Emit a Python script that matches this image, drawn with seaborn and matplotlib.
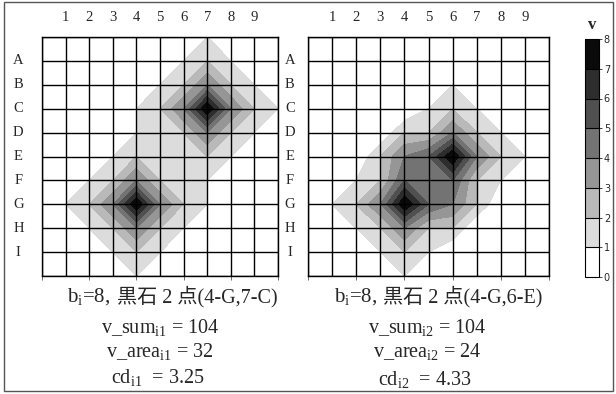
import numpy as np
import matplotlib
matplotlib.use("Agg")
import matplotlib.pyplot as plt
import seaborn as sns
from matplotlib.colors import ListedColormap, BoundaryNorm
from matplotlib.cm import ScalarMappable
from matplotlib.patches import Rectangle

# board lines 0..10, only 1..9 carry labels
board_lines = list(range(11))
col_labels = ["1", "2", "3", "4", "5", "6", "7", "8", "9"]
row_labels = ["A", "B", "C", "D", "E", "F", "G", "H", "I"]

# v (rows = y 0..10 from top, cols = x 0..10)
v_board1 = [
    [0, 0, 0, 0, 0, 0, 0, 1, 0, 0, 0],
    [0, 0, 0, 0, 0, 0, 1, 2, 1, 0, 0],
    [0, 0, 0, 0, 0, 1, 2, 4, 2, 1, 0],
    [0, 0, 0, 0, 1, 2, 4, 8, 4, 2, 1],
    [0, 0, 0, 0, 1, 1, 2, 4, 2, 1, 0],
    [0, 0, 0, 1, 2, 1, 1, 2, 1, 0, 0],
    [0, 0, 1, 2, 4, 2, 1, 1, 0, 0, 0],
    [0, 1, 2, 4, 8, 4, 2, 1, 0, 0, 0],
    [0, 0, 1, 2, 4, 2, 1, 0, 0, 0, 0],
    [0, 0, 0, 1, 2, 1, 0, 0, 0, 0, 0],
    [0, 0, 0, 0, 1, 0, 0, 0, 0, 0, 0],
]
v_board2 = [
    [0, 0, 0, 0, 0, 0, 0, 0, 0, 0, 0],
    [0, 0, 0, 0, 0, 0, 0, 0, 0, 0, 0],
    [0, 0, 0, 0, 0, 0, 1, 0, 0, 0, 0],
    [0, 0, 0, 0, 0, 1, 2, 1, 0, 0, 0],
    [0, 0, 0, 0, 2, 2, 4, 2, 1, 0, 0],
    [0, 0, 0, 2, 4, 5, 8, 4, 2, 1, 0],
    [0, 0, 1, 2, 5, 4, 5, 2, 1, 0, 0],
    [0, 1, 2, 4, 8, 5, 4, 2, 0, 0, 0],
    [0, 0, 1, 2, 4, 2, 2, 0, 0, 0, 0],
    [0, 0, 0, 1, 2, 1, 0, 0, 0, 0, 0],
    [0, 0, 0, 0, 1, 0, 0, 0, 0, 0, 0],
]

cb_ticks = [0, 1, 2, 3, 4, 5, 6, 7, 8]
stones = ["黒石 2 点(4-G,7-C)", "黒石 2 点(4-G,6-E)"]
b_i = [8, 8]
v_sum = [104, 104]
v_area = [32, 24]
cd = ["3.25", "4.33"]

sns.set_style("white")
plt.rcParams["font.family"] = ["Liberation Serif", "Noto Sans CJK JP"]
plt.rcParams["mathtext.fontset"] = "custom"
plt.rcParams["mathtext.rm"] = "Liberation Serif"
plt.rcParams["mathtext.it"] = "Liberation Serif:italic"

grays = sns.blend_palette(["#ffffff", "#0a0a0a"], 8)
# bands are [k, k+1): shift the edges a hair so plateaus of v=1 get grey
eps = 1e-6
fill_levels = [k - eps for k in cb_ticks[:-1]] + [cb_ticks[-1] + eps]

W, H = 616, 394


def fx(x):
    return x / W


def fy(y):
    return 1 - y / H


fig = plt.figure(figsize=(W / 100, H / 100), dpi=100)

ax1 = fig.add_axes([fx(42), fy(276), (278 - 42) / W, (276 - 37) / H])
ax2 = fig.add_axes([fx(308), fy(276), (549 - 308) / W, (276 - 37) / H])

X, Y = np.meshgrid(board_lines, board_lines)
for ax, v in [(ax1, v_board1), (ax2, v_board2)]:
    ax.contourf(X, Y, np.array(v, dtype=float), levels=fill_levels, colors=grays)
    ax.vlines(board_lines, 0, 10, color="black", lw=1.0, zorder=3)
    ax.hlines(board_lines, 0, 10, color="black", lw=1.0, zorder=3)
    ax.set_xlim(0, 10)
    ax.set_ylim(10, 0)
    ax.set_xticks(board_lines[::2])
    ax.set_yticks([])
    ax.set_xticklabels([])
    ax.tick_params(axis="x", bottom=True, length=3, width=0.6, color="#555555")
    for sp in ax.spines.values():
        sp.set_color("black")
        sp.set_linewidth(1.0)
    for i, lab in enumerate(col_labels):
        ax.text(i + 1, -0.8, lab, ha="center", va="center", fontsize=10.5)

# row letters sit left of board 1 and between the two boards
for i, lab in enumerate(row_labels):
    ax1.text(-1.0, i + 1, lab, ha="center", va="center", fontsize=10.5, clip_on=False)
    ax1.text(10.5, i + 1, lab, ha="center", va="center", fontsize=10.5, clip_on=False)

# captions under each board
for k, (xb, xs, xc) in enumerate([(110, 117, 160), (377, 383, 427)]):
    fig.text(fx(xb), fy(297), "b$_\\mathrm{i}$=%d," % b_i[k], ha="right", va="center",
             fontsize=15, family="Liberation Serif")
    fig.text(fx(xs), fy(297), stones[k], ha="left", va="center", fontsize=14.5)
    n = k + 1
    fig.text(fx(xc), fy(327), "v_sum$_\\mathrm{i%d}$ = %d" % (n, v_sum[k]), ha="center",
             va="center", fontsize=14.5, family="Liberation Serif")
    fig.text(fx(xc), fy(352), "v_area$_\\mathrm{i%d}$ = %d" % (n, v_area[k]), ha="center",
             va="center", fontsize=14.5, family="Liberation Serif")
    fig.text(fx(xc - 2), fy(377 + 2 * k), "cd$_\\mathrm{i%d}$  = %s" % (n, cd[k]), ha="center",
             va="center", fontsize=14.5, family="Liberation Serif")

# colour bar
cax = fig.add_axes([fx(585), fy(277), 14 / W, (277 - 39) / H])
sm = ScalarMappable(norm=BoundaryNorm(cb_ticks, 8), cmap=ListedColormap(grays))
cb = fig.colorbar(sm, cax=cax, ticks=cb_ticks, drawedges=True)
cb.outline.set_edgecolor("black")
cb.outline.set_linewidth(0.8)
cb.dividers.set_color("black")
cb.dividers.set_linewidth(0.8)
cax.tick_params(length=2, width=0.6, pad=1.5, labelsize=7)
for t in cax.get_yticklabels():
    t.set_family("DejaVu Sans")
fig.text(fx(592), fy(25), "v", ha="center", va="center", fontsize=12, fontweight="bold")

# outer frame
fig.patches.append(Rectangle((fx(4), fy(391)), (613 - 4) / W, (391 - 2) / H,
                             transform=fig.transFigure, fill=False,
                             edgecolor="#555555", lw=1.0))

fig.savefig("out.png", dpi=100)
